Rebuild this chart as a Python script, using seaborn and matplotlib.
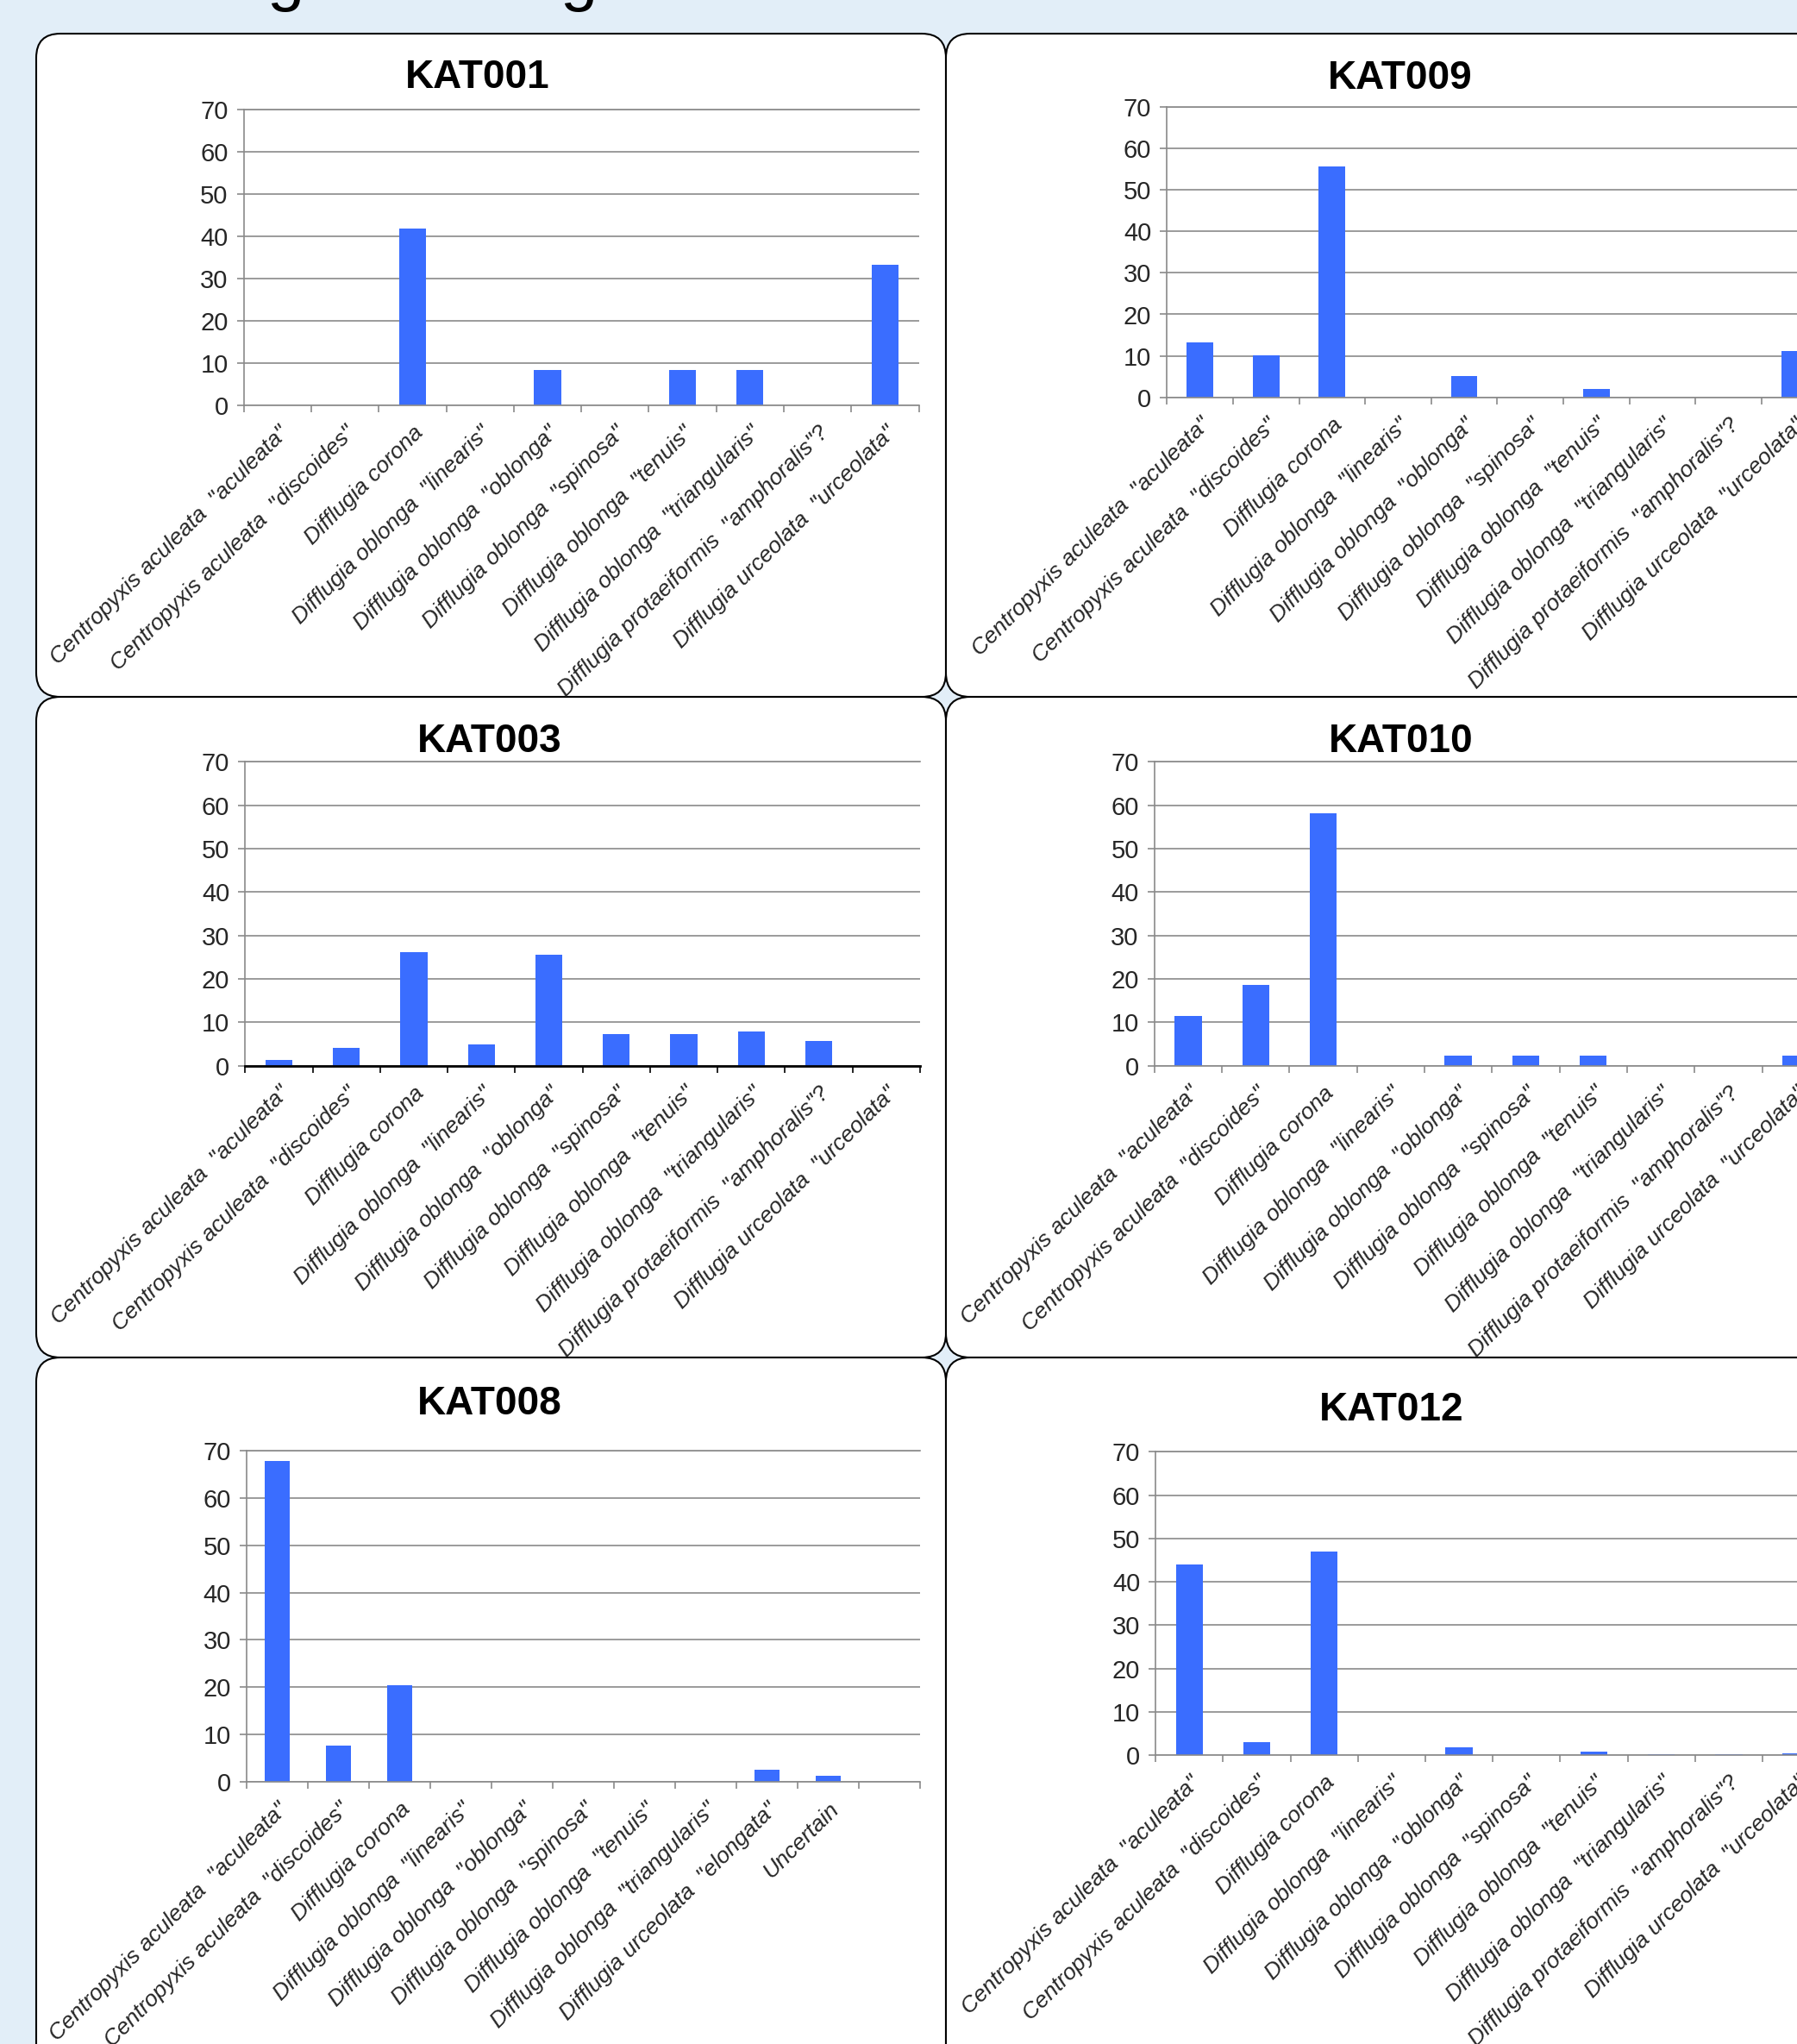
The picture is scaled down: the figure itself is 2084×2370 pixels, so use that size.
import numpy as np
import pandas as pd
import matplotlib
matplotlib.use("Agg")
import matplotlib.pyplot as plt
from matplotlib.patches import FancyBboxPatch
import seaborn as sns

# ---------------- data ----------------
categories = [
    'Centropyxis aculeata  "aculeata"',
    'Centropyxis aculeata  "discoides"',
    'Difflugia corona',
    'Difflugia oblonga  "linearis"',
    'Difflugia oblonga  "oblonga"',
    'Difflugia oblonga  "spinosa"',
    'Difflugia oblonga  "tenuis"',
    'Difflugia oblonga  "triangularis"',
    'Difflugia protaeiformis  "amphoralis"?',
    'Difflugia urceolata  "urceolata"',
]
categories_kat008 = [
    'Centropyxis aculeata  "aculeata"',
    'Centropyxis aculeata  "discoides"',
    'Difflugia corona',
    'Difflugia oblonga  "linearis"',
    'Difflugia oblonga  "oblonga"',
    'Difflugia oblonga  "spinosa"',
    'Difflugia oblonga  "tenuis"',
    'Difflugia oblonga  "triangularis"',
    'Difflugia urceolata  "elongata"',
    'Uncertain',
    '',
]
kat001 = [0, 0, 41.7, 0, 8.3, 0, 8.3, 8.3, 0, 33.3]
kat009 = [13.3, 10.2, 55.6, 0, 5.1, 0, 2.0, 0, 0, 11.2]
kat003 = [1.3, 4.2, 26.2, 5.0, 25.5, 7.2, 7.2, 7.9, 5.8, 0]
kat010 = [11.5, 18.6, 58.1, 0, 2.3, 2.3, 2.3, 0, 0, 2.3]
kat008 = [67.8, 7.7, 20.4, 0, 0, 0, 0, 0, 2.5, 1.3, 0]
kat012 = [43.9, 2.9, 47.0, 0, 1.8, 0, 0.8, 0.15, 0.15, 0.3]
y_ticks = [0, 10, 20, 30, 40, 50, 60, 70]

# ---------------- style ----------------
sns.set_theme(style="white")
plt.rcParams['font.family'] = ['Liberation Sans', 'DejaVu Sans']

BG = '#E2EEF8'
BAR = '#3A6DFF'
GRID = '#8A8A8A'

W, H = 2084, 2370
fig = plt.figure(figsize=(W / 100, H / 100), dpi=100)
fig.patch.set_facecolor(BG)

bg = fig.add_axes([0, 0, 1, 1], zorder=0)
bg.set_xlim(0, W)
bg.set_ylim(H, 0)
bg.axis('off')

# panel boxes (pixel coords)
cols = [(42, 1097), (1097, 2300)]
rows = [(39, 808), (808, 1574), (1574, 2600)]
for (y0, y1) in rows:
    for (x0, x1) in cols:
        bg.add_patch(FancyBboxPatch((x0, y0), x1 - x0, y1 - y0,
                                    boxstyle="round,pad=0,rounding_size=28",
                                    fc='white', ec='black', lw=1.5))

# heading glyphs clipped at the top edge of the poster crop
for gx in (331, 671):
    bg.text(gx, -2, 'g', ha='center', va='baseline', fontsize=56, color='black')

panels = [
    # name, labels, values, (left, right, top, bottom) px, title (x, baseline)
    ('KAT001', categories, kat001, (282.7, 1065.5, 126.7, 470.0), (554, 102), GRID),
    ('KAT009', categories, kat009, (1353.3, 2119.3, 124.0, 460.7), (1624, 103), GRID),
    ('KAT003', categories, kat003, (284.4, 1066.8, 883.3, 1235.7), (568, 872), 'black'),
    ('KAT010', categories, kat010, (1338.8, 2121.8, 883.3, 1235.7), (1625, 872), GRID),
    ('KAT008', categories_kat008, kat008, (286.0, 1067.0, 1682.0, 2066.0), (568, 1640), GRID),
    ('KAT012', categories, kat012, (1340.2, 2122.2, 1683.3, 2035.0), (1614, 1647), GRID),
]

for name, labels, vals, (l, r, t, b), (tx, ty), bottom_col in panels:
    ax = fig.add_axes([l / W, 1 - b / H, (r - l) / W, (b - t) / H], zorder=2)
    df = pd.DataFrame({'species': labels, 'value': vals})
    sns.barplot(data=df, x='species', y='value', order=labels, ax=ax,
                color=BAR, saturation=1, width=0.4, errorbar=None, linewidth=0)
    n = len(labels)
    ax.set_xlim(-0.5, n - 0.5)
    ax.set_ylim(0, 70)
    ax.set_yticks(y_ticks)
    ax.set_yticklabels([str(v) for v in y_ticks], fontsize=21)
    ax.set_xticks(range(n))
    ax.set_xticklabels(labels, rotation=45, ha='right', va='top',
                       rotation_mode='anchor', fontstyle='italic', fontsize=19)
    ax.set_xticks(np.arange(n + 1) - 0.5, minor=True)
    ax.tick_params(axis='x', which='major', length=0, pad=14)
    ax.tick_params(axis='x', which='minor', length=6, width=1.2,
                   color=bottom_col, direction='out', bottom=True)
    ax.tick_params(axis='y', which='major', length=6, width=1.2, color=GRID,
                   direction='out', left=True, pad=7)
    ax.set_xlabel('')
    ax.set_ylabel('')
    ax.yaxis.grid(True, color=GRID, lw=1.2)
    ax.xaxis.grid(False)
    ax.set_axisbelow(True)
    ax.set_facecolor('white')
    for side in ('left', 'top'):
        ax.spines[side].set_visible(True)
        ax.spines[side].set_color(GRID)
        ax.spines[side].set_linewidth(1.2)
    ax.spines['right'].set_visible(False)
    ax.spines['bottom'].set_visible(True)
    ax.spines['bottom'].set_color(bottom_col)
    ax.spines['bottom'].set_linewidth(2.0 if bottom_col == 'black' else 1.2)

    bg.text(tx, ty, name, ha='center', va='baseline', fontsize=33,
            fontweight='bold', color='black')

fig.savefig('out.png', dpi=100, facecolor=BG)
